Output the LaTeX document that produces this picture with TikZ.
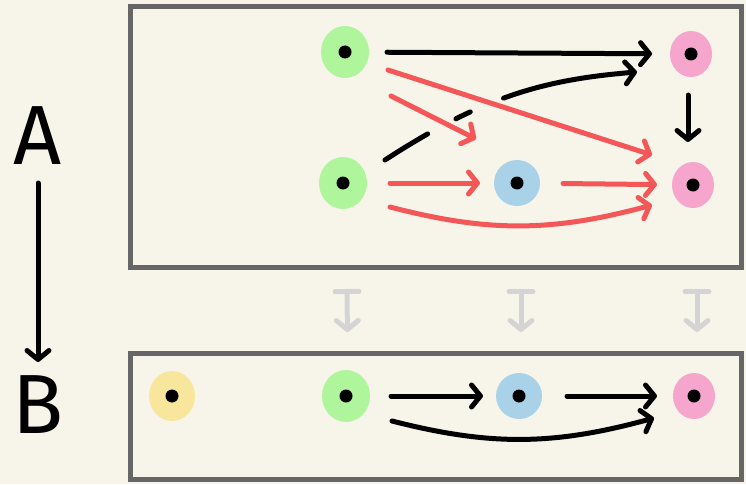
\documentclass[tikz,border=0pt]{standalone}
\usepackage{fontspec}
\setsansfont{Fira Sans}
\usetikzlibrary{arrows.meta,calc,positioning,shapes.geometric,bending}
\definecolor{paper}{HTML}{F7F5EA}
\definecolor{framegray}{HTML}{666666}
\definecolor{fadegray}{HTML}{D4D4D4}
\definecolor{redc}{HTML}{F45757}
\definecolor{greenc}{HTML}{AFF59B}
\definecolor{bluec}{HTML}{A9D2E9}
\definecolor{pinkc}{HTML}{F6A6CD}
\definecolor{yellowc}{HTML}{F7E69B}
\tikzset{
  blob/.style={ellipse,draw=none,inner sep=0pt,minimum width=48pt,minimum height=52pt,
    path picture={\fill[black] (path picture bounding box.center) circle (6.5pt);}},
  gnode/.style={blob,fill=greenc},
  bnode/.style={blob,fill=bluec,minimum width=46pt,minimum height=46pt},
  pnode/.style={blob,fill=pinkc,minimum width=42pt,minimum height=46pt},
  ynode/.style={blob,fill=yellowc,minimum width=46pt,minimum height=50pt},
  arr/.style={line width=5pt,line cap=round,-{Straight Barb[length=9pt,width=22pt,round]}},
  rarr/.style={arr,draw=redc},
  % broken where the red arrows pass over it
  under/.style={dash pattern=on 50pt off 32pt on 16pt off 36pt on 400pt},
  fmap/.style={line width=5pt,draw=fadegray,line cap=round,
    arrows={Bar[width=24pt,round]-Straight Barb[length=9pt,width=22pt,round]}},
  panel/.style={draw=framegray,line width=5pt},
  letter/.style={inner sep=0pt,font=\sffamily\fontsize{84}{84}\selectfont}
}
\begin{document}
\begin{tikzpicture}[x=1pt,y=1pt]
\fill[paper] (0,0) rectangle (746,-484);
\useasboundingbox (0,0) rectangle (746,-484);
\draw[panel] (130,-7) rectangle (741,-267);
\draw[panel] (130,-353) rectangle (741,-479);

% the two categories
\node[letter] (A) at (38,-136) {A};
\node[letter] (B) at (38,-405) {B};
\draw[arr,shorten <=47pt,shorten >=43pt] (A.center) -- (B.center);

% upper panel
\node[gnode] (g1) at (345,-52) {};
\node[gnode] (g2) at (343,-183) {};
\node[bnode] (b1) at (517,-183) {};
\node[pnode] (p1) at (691,-54) {};
\node[pnode] (p2) at (693,-185) {};

\draw[arr,shorten <=42pt,shorten >=39pt] (g1.center) -- (p1.center);
\draw[arr,shorten <=41pt,shorten >=43pt] ([xshift=-3pt]p1.center) -- ([xshift=-5pt]p2.center);
\draw[arr,under] ([shift={(42,23)}]g2.center) .. controls +(100,65) and +(-90,-7) .. ([shift={(-54,-18)}]p1.center);
\draw[rarr] ([shift={(43,-18)}]g1.center) -- ([shift={(-41,30)}]p2.center);
\draw[rarr] ([shift={(46,-44)}]g1.center) -- ([shift={(-41,44)}]b1.center);
\draw[rarr,shorten <=47pt,shorten >=37pt] (g2.center) -- (b1.center);
\draw[rarr,shorten <=46pt,shorten >=36pt] (b1.center) -- (p2.center);
\draw[rarr] ([shift={(47,-24)}]g2.center) to[bend right=15] ([shift={(-41,-20)}]p2.center);

% lower panel
\node[ynode] (y0) at (172,-396) {};
\node[gnode] (g0) at (346,-396) {};
\node[bnode] (b0) at (519,-396) {};
\node[pnode] (p0) at (694,-396) {};

\draw[arr,shorten <=45pt,shorten >=36pt] (g0.center) -- (b0.center);
\draw[arr,shorten <=48pt,shorten >=37pt] (b0.center) -- (p0.center);
\draw[arr] ([shift={(46,-25)}]g0.center) to[bend right=15] ([shift={(-40,-22)}]p0.center);

% the functor on objects
\draw[fmap,shorten <=106pt,shorten >=64pt] ([xshift=3pt]g2.center) -- ([xshift=2pt]g0.center);
\draw[fmap,shorten <=106pt,shorten >=64pt] ([xshift=4pt]b1.center) -- ([xshift=2pt]b0.center);
\draw[fmap,shorten <=104pt,shorten >=64pt] ([xshift=4pt]p2.center) -- ([xshift=3pt]p0.center);
\end{tikzpicture}
\end{document}
